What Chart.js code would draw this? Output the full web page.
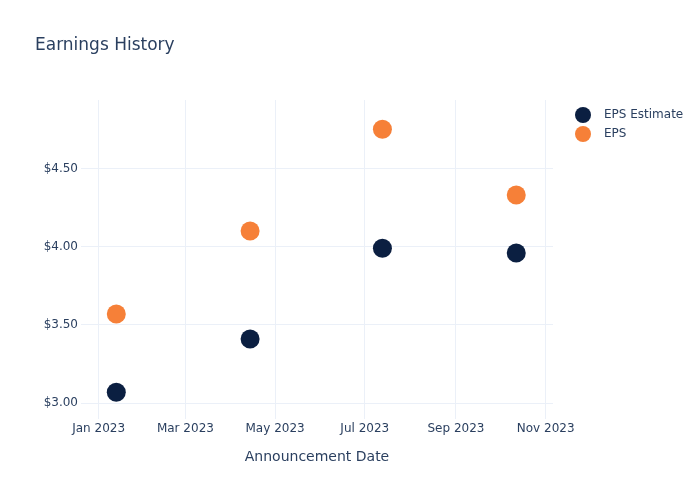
<!DOCTYPE html>
<html>
<head>
<meta charset="utf-8">
<script src="https://cdn.jsdelivr.net/npm/chart.js@4.4.1/dist/chart.umd.min.js"></script>
<style>
  body { margin: 0; background: #fff; font-family: "DejaVu Sans", sans-serif; }
  #wrap { position: relative; width: 700px; height: 500px; }
  #title { position: absolute; left: 35px; top: 34px; font-size: 17px; color: #2a3f5f; }
  .legend_item { position: absolute; left: 575px; font-size: 12px; color: #2a3f5f; line-height: 16px; }
  .legend_item span { display: inline-block; width: 16px; height: 16px; border-radius: 50%; vertical-align: middle; margin-right: 13px; }
</style>
</head>
<body>
<div id="wrap">
  <canvas id="earnings_chart" width="700" height="500"></canvas>
  <div id="title">Earnings History</div>
  <div class="legend_item" style="top:106px"><span style="background:#0b1f41"></span>EPS Estimate</div>
  <div class="legend_item" style="top:125px"><span style="background:#f68038"></span>EPS</div>
</div>
<script>
'use strict';

// data
var announce_dates = ['2023-01-13', '2023-04-14', '2023-07-13', '2023-10-12'];
var eps_estimate = [3.07, 3.41, 3.99, 3.96];
var eps_actual = [3.57, 4.10, 4.75, 4.33];
var x_tick_dates = ['2023-01-01', '2023-03-01', '2023-05-01', '2023-07-01', '2023-09-01', '2023-11-01'];
var y_tick_values = [3.00, 3.50, 4.00, 4.50];

var month_names = ['Jan', 'Feb', 'Mar', 'Apr', 'May', 'Jun', 'Jul', 'Aug', 'Sep', 'Oct', 'Nov', 'Dec'];

function to_ms(d) {
    return Date.parse(d + 'T00:00:00Z');
}

function make_points(values) {
    return announce_dates.map(function (d, i) {
        return { x: to_ms(d), y: values[i] };
    });
}

var grid_color = '#ebf0f8';
var text_color = '#2a3f5f';

var ctx = document.getElementById('earnings_chart');

var earnings_chart = new Chart(ctx, {
    type: 'scatter',
    data: {
        datasets: [{
            label: 'EPS Estimate',
            data: make_points(eps_estimate),
            backgroundColor: '#0b1f41',
            borderColor: '#0b1f41',
            pointRadius: 9.5,
            pointHoverRadius: 9.5,
            borderWidth: 0
        }, {
            label: 'EPS',
            data: make_points(eps_actual),
            backgroundColor: '#f68038',
            borderColor: '#f68038',
            pointRadius: 9.5,
            pointHoverRadius: 9.5,
            borderWidth: 0
        }]
    },
    options: {
        responsive: false,
        animation: false,
        layout: {
            padding: { left: 0, right: 147, top: 100, bottom: 0 }
        },
        plugins: {
            legend: { display: false },
            title: { display: false },
            tooltip: { enabled: false }
        },
        scales: {
            x: {
                type: 'linear',
                min: Date.UTC(2022, 11, 20, 0),
                max: Date.UTC(2023, 10, 6, 0),
                afterBuildTicks: function (scale) {
                    scale.ticks = x_tick_dates.map(function (d) { return { value: to_ms(d) }; });
                },
                afterFit: function (scale) {
                    scale.height = 81;
                },
                grid: { color: grid_color, drawTicks: false },
                border: { display: false },
                ticks: {
                    autoSkip: false,
                    maxRotation: 0,
                    padding: 3,
                    color: text_color,
                    font: { family: 'DejaVu Sans', size: 12 },
                    callback: function (value) {
                        var dt = new Date(value);
                        return month_names[dt.getUTCMonth()] + ' ' + dt.getUTCFullYear();
                    }
                },
                title: {
                    display: true,
                    text: 'Announcement Date',
                    color: text_color,
                    font: { family: 'DejaVu Sans', size: 14 },
                    padding: { top: 0, bottom: 34 }
                }
            },
            y: {
                min: 2.899,
                max: 4.937,
                afterBuildTicks: function (scale) {
                    scale.ticks = y_tick_values.map(function (v) { return { value: v }; });
                },
                afterFit: function (scale) {
                    scale.width = 81;
                },
                grid: { color: grid_color, drawTicks: false },
                border: { display: false },
                ticks: {
                    padding: 3,
                    color: text_color,
                    font: { family: 'DejaVu Sans', size: 12 },
                    callback: function (value) {
                        return '$' + value.toFixed(2);
                    }
                }
            }
        }
    }
});
</script>
</body>
</html>
